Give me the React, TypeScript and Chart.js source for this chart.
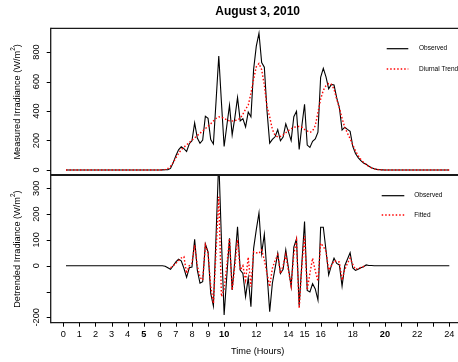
import { useEffect, useRef } from "react";
import { Chart, registerables } from "chart.js";

Chart.register(...registerables);

const TITLE = "August 3, 2010";
const X_TITLE = "Time (Hours)";
const TOP_Y_TITLE = ["Measured Irradiance (W/m", "2", ")"];
const BOTTOM_Y_TITLE = ["Detrended Irradiance (W/m", "2", ")"];

// 10-minute readings: the first at 00:10, the last at 24:00 (one row per hour)
const STEP_MINUTES = 10;

const observed = [
  0, 0, 0, 0, 0, 0,
  0, 0, 0, 0, 0, 0,
  0, 0, 0, 0, 0, 0,
  0, 0, 0, 0, 0, 0,
  0, 0, 0, 0, 0, 0,
  0, 0, 0, 0, 0, 0,
  1, 2, 2, 11, 50, 97,
  137, 157, 145, 125, 178, 198,
  320, 217, 181, 203, 364, 350,
  206, 176, 470, 773, 458, 159,
  300, 439, 238, 355, 491, 333,
  348, 292, 393, 361, 682, 840,
  927, 728, 697, 400, 182, 207,
  225, 273, 198, 224, 313, 258,
  199, 361, 398, 140, 300, 446,
  169, 153, 195, 210, 257, 629,
  689, 632, 550, 580, 577, 489,
  423, 271, 290, 275, 262, 161,
  112, 84, 64, 48, 39, 25,
  15, 8, 4, 2, 1, 0,
  0, 0, 0, 0, 0, 0,
  0, 0, 0, 0, 0, 0,
  0, 0, 0, 0, 0, 0,
  0, 0, 0, 0, 0, 0,
];

const diurnalTrend = [
  0, 0, 0, 0, 0, 0,
  0, 0, 0, 0, 0, 0,
  0, 0, 0, 0, 0, 0,
  0, 0, 0, 0, 0, 0,
  0, 0, 0, 0, 0, 0,
  0, 0, 0, 0, 0, 0,
  1, 4, 10, 25, 50, 82,
  112, 138, 155, 170, 186, 203,
  218, 234, 249, 265, 280, 296,
  313, 332, 350, 360, 358, 350,
  340, 333, 332, 335, 340, 350,
  378, 412, 440, 520, 615, 700,
  722, 680, 575, 430, 360, 275,
  235, 225, 228, 238, 252, 268,
  280, 289, 294, 295, 290, 275,
  265, 255, 265, 300, 390, 480,
  540, 572, 586, 580, 548, 480,
  420, 350, 290, 250, 212, 170,
  130, 98, 72, 52, 36, 24,
  14, 8, 4, 2, 1, 0,
  0, 0, 0, 0, 0, 0,
  0, 0, 0, 0, 0, 0,
  0, 0, 0, 0, 0, 0,
  0, 0, 0, 0, 0, 0,
];

// the fitted model only covers daylight hours
const fittedDetrended = [
  null, null, null, null, null, null,
  null, null, null, null, null, null,
  null, null, null, null, null, null,
  null, null, null, null, null, null,
  null, null, null, null, null, null,
  null, null, null, null, null, null,
  null, null, null, -8, 0, 9,
  20, 30, 35, -30, 0, 10,
  80, 0, -45, -56, 80, 48,
  -80, -146, 60, 267, -120, -90,
  0, 106, -94, 0, 100, -17,
  0, -56, 33, -81, 54, 50,
  48, 61, 22, -30, -81, -10,
  20, 42, -30, 0, 42, -20,
  -78, 45, 98, -165, 0, 115,
  -94, -30, 29, -20, -60, 87,
  75, 55, -17, 0, 19, 17,
  14, -56, -15, 9, 29, 5,
  -14, -10, -7, -3, 0, null,
  null, null, null, null, null, null,
  null, null, null, null, null, null,
  null, null, null, null, null, null,
  null, null, null, null, null, null,
  null, null, null, null, null, null,
];

const hourTicks = [0, 1, 2, 3, 4, 5, 6, 7, 8, 9, 10, 11, 12, 13, 14, 15, 16, 17, 18, 19, 20, 21, 22, 23, 24];
const hourTickLabels = ["0", "1", "2", "3", "4", "5", "6", "7", "8", "9", "10", "", "12", "", "14", "15", "16", "", "18", "", "20", "", "22", "", "24"];
const boldHourLabels = ["5", "10", "20"];

const measuredTicks = [0, 200, 400, 600, 800];
const measuredTickLabels = ["0", "200", "400", "600", "800"];
const detrendedTicks = [-200, -100, 0, 100, 200, 300];
const detrendedTickLabels = ["-200", "", "0", "100", "200", "300"];

// visible extent of each axis; the frame itself runs on to BOX_X_MAX
const X_MIN = -0.783;
const X_MAX = 24.541;
const BOX_X_MAX = 24.953;
const MEASURED_MIN = -37.3;
const MEASURED_MAX = 960.7;
const DETRENDED_MIN = -220.9;
const DETRENDED_MAX = 349.6;

const FONT = '"Liberation Sans", Arial, Helvetica, sans-serif';
const RED = "#ff0000";
const FRAME = "#1a1a1a";

const hours = observed.map((_, i) => ((i + 1) * STEP_MINUTES) / 60);
const detrended = observed.map((v, i) => v - diurnalTrend[i]);
const toPoints = (values: (number | null)[]) => values.map((y, i) => ({ x: hours[i], y }));

function drawRotated(ctx: CanvasRenderingContext2D, parts: string[], cx: number, cy: number, size: number) {
  ctx.save();
  ctx.translate(cx, cy);
  ctx.rotate(-Math.PI / 2);
  ctx.textBaseline = "middle";
  ctx.textAlign = "left";
  const big = `${size}px ${FONT}`;
  const small = `${size * 0.7}px ${FONT}`;
  ctx.font = big;
  const w0 = ctx.measureText(parts[0]).width;
  ctx.font = small;
  const w1 = ctx.measureText(parts[1]).width;
  ctx.font = big;
  const w2 = ctx.measureText(parts[2]).width;
  let x = -(w0 + w1 + w2) / 2;
  ctx.fillText(parts[0], x, 0);
  x += w0;
  ctx.font = small;
  ctx.fillText(parts[1], x, -size * 0.4);
  x += w1;
  ctx.font = big;
  ctx.fillText(parts[2], x, 0);
  ctx.restore();
}

function line(ctx: CanvasRenderingContext2D, x0: number, y0: number, x1: number, y1: number) {
  ctx.beginPath();
  ctx.moveTo(x0, y0);
  ctx.lineTo(x1, y1);
  ctx.stroke();
}

const framePlugin = {
  id: "irradianceFrame",
  afterDraw(chart: any) {
    const ctx: CanvasRenderingContext2D = chart.ctx;
    const xs = chart.scales.x;
    const yTop = chart.scales.yMeasured;
    const yBot = chart.scales.yDetrended;
    const left = xs.left;
    const boxRight = xs.getPixelForValue(BOX_X_MAX);
    ctx.save();

    // panel frames; the two panels meet in a double rule
    ctx.strokeStyle = FRAME;
    ctx.lineWidth = 1.3;
    line(ctx, left, yTop.top, boxRight, yTop.top);
    line(ctx, left, yBot.bottom, boxRight, yBot.bottom);
    line(ctx, left, yTop.top - 0.6, left, yBot.bottom + 0.6);
    line(ctx, boxRight, yTop.top, boxRight, yBot.bottom);
    ctx.lineWidth = 2;
    line(ctx, left, yTop.bottom - 0.5, boxRight, yTop.bottom - 0.5);

    // x ticks and labels
    ctx.lineWidth = 1;
    ctx.strokeStyle = "#000";
    ctx.fillStyle = "#000";
    ctx.textAlign = "center";
    ctx.textBaseline = "middle";
    hourTicks.forEach((h, i) => {
      const px = Math.round(xs.getPixelForValue(h)) + 0.5;
      line(ctx, px, yBot.bottom, px, yBot.bottom + 4);
      const label = hourTickLabels[i];
      if (label) {
        const bold = boldHourLabels.includes(label);
        ctx.font = `${bold ? "bold " : ""}9.2px ${FONT}`;
        ctx.fillText(label, xs.getPixelForValue(h), yBot.bottom + 11.6);
      }
    });

    // y ticks and labels
    const yAxis = (scale: any, ticks: number[], labels: string[]) => {
      ticks.forEach((v, i) => {
        const py = Math.round(scale.getPixelForValue(v)) + 0.5;
        line(ctx, left, py, left - 4, py);
        if (labels[i]) {
          ctx.save();
          ctx.translate(36.5, scale.getPixelForValue(v));
          ctx.rotate(-Math.PI / 2);
          ctx.font = `9.2px ${FONT}`;
          ctx.textAlign = "center";
          ctx.textBaseline = "middle";
          ctx.fillText(labels[i], 0, 0);
          ctx.restore();
        }
      });
    };
    yAxis(yTop, measuredTicks, measuredTickLabels);
    yAxis(yBot, detrendedTicks, detrendedTickLabels);

    // titles, centred on the frame
    const boxCenter = (left + boxRight) / 2;
    ctx.font = `bold 12px ${FONT}`;
    ctx.textAlign = "center";
    ctx.textBaseline = "middle";
    ctx.fillText(TITLE, boxCenter, 11.7);
    ctx.font = `9.2px ${FONT}`;
    ctx.fillText(X_TITLE, boxCenter, 351.7);
    drawRotated(ctx, TOP_Y_TITLE, 17, (yTop.top + yTop.bottom) / 2, 9.2);
    drawRotated(ctx, BOTTOM_Y_TITLE, 17, (yBot.top + yBot.bottom) / 2, 9.2);

    // legends
    const legend = (y1: number, y2: number, x0: number, x1: number, tx: number, second: string) => {
      ctx.font = `6.5px ${FONT}`;
      ctx.textAlign = "left";
      ctx.textBaseline = "middle";
      ctx.strokeStyle = "#000";
      ctx.lineWidth = 1.2;
      ctx.setLineDash([]);
      line(ctx, x0, y1, x1, y1);
      ctx.fillText("Observed", tx, y1);
      ctx.strokeStyle = RED;
      ctx.lineWidth = 1.4;
      ctx.setLineDash([1.5, 2]);
      line(ctx, x0, y2, x1, y2);
      ctx.setLineDash([]);
      ctx.fillText(second, tx, y2);
    };
    legend(yTop.top + 20.4, yTop.top + 40.7, 386.7, 408.3, 419, "Diurnal Trend");
    legend(yBot.top + 20.2, yBot.top + 39.5, 381.7, 404.3, 414.3, "Fitted");

    ctx.restore();
  },
};

export default function App() {
  const canvasRef = useRef<HTMLCanvasElement | null>(null);

  useEffect(() => {
    document.body.style.margin = "0";
    document.body.style.overflow = "hidden";
    const canvas = canvasRef.current;
    if (!canvas) return;

    const black = { borderColor: "#000", borderWidth: 1.1, pointRadius: 0, tension: 0, fill: false, order: 1 };
    const red = { borderColor: RED, borderWidth: 1.4, borderDash: [1.5, 2], pointRadius: 0, tension: 0, fill: false, order: 0 };

    const chart = new Chart(canvas, {
      type: "line",
      data: {
        datasets: [
          { label: "Diurnal Trend", data: toPoints(diurnalTrend), yAxisID: "yMeasured", ...red },
          { label: "Observed", data: toPoints(observed), yAxisID: "yMeasured", ...black },
          { label: "Fitted", data: toPoints(fittedDetrended), yAxisID: "yDetrended", ...red, spanGaps: false },
          { label: "Observed (detrended)", data: toPoints(detrended), yAxisID: "yDetrended", ...black },
        ],
      },
      options: {
        animation: false,
        responsive: false,
        devicePixelRatio: 1,
        events: [],
        layout: { padding: { left: 50.7, right: 0, top: 28.3, bottom: 39.3 } },
        plugins: {
          legend: { display: false },
          tooltip: { enabled: false },
          title: { display: false },
        },
        scales: {
          x: { type: "linear", min: X_MIN, max: X_MAX, display: false },
          yDetrended: {
            type: "linear",
            position: "left",
            stack: "panels",
            stackWeight: 1,
            min: DETRENDED_MIN,
            max: DETRENDED_MAX,
            display: false,
          },
          yMeasured: {
            type: "linear",
            position: "left",
            stack: "panels",
            stackWeight: 1,
            min: MEASURED_MIN,
            max: MEASURED_MAX,
            display: false,
          },
        },
      } as any,
      plugins: [framePlugin],
    });
    return () => chart.destroy();
  }, []);

  return (
    <div style={{ position: "fixed", left: 0, top: 0, width: 458, height: 362, background: "#fff" }}>
      <canvas ref={canvasRef} width={458} height={362} style={{ display: "block" }} />
    </div>
  );
}
